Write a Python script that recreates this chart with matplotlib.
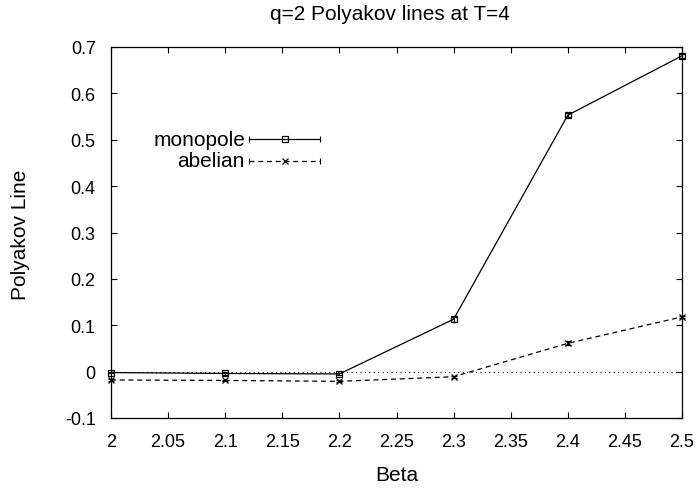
import numpy as np
import matplotlib as mpl
mpl.use('Agg')
import matplotlib.pyplot as plt

mpl.rcParams['font.family'] = ['Liberation Sans', 'DejaVu Sans']
mpl.rcParams['font.size'] = 13

# data -------------------------------------------------------------------------
beta = [2.0, 2.1, 2.2, 2.3, 2.4, 2.5]
mono = [-0.002, -0.004, -0.005, 0.113, 0.553, 0.681]
mono_err = [0.002, 0.003, 0.003, 0.005, 0.005, 0.004]
abel = [-0.018, -0.019, -0.021, -0.011, 0.061, 0.118]
abel_err = [0.002, 0.002, 0.002, 0.002, 0.004, 0.003]
xticks = [2, 2.05, 2.1, 2.15, 2.2, 2.25, 2.3, 2.35, 2.4, 2.45, 2.5]
yticks = [-0.1, 0, 0.1, 0.2, 0.3, 0.4, 0.5, 0.6, 0.7]

W, H = 697, 489
fig = plt.figure(figsize=(W / 100, H / 100), dpi=100)
ax = fig.add_axes([111 / W, 1 - 419 / H, 571 / W, 371 / H])

ax.axhline(0, color='black', lw=0.8, ls=(0, (1, 3)))
ax.errorbar(beta, mono, yerr=mono_err, color='black', lw=0.9, marker='s',
            ms=4.5, mfc='none', mew=0.9, capsize=2, elinewidth=0.8,
            clip_on=False)
ax.errorbar(beta, abel, yerr=abel_err, color='black', lw=0.9, ls=(0, (4, 3)),
            marker='x', ms=4, mew=0.9, capsize=2, elinewidth=0.8,
            clip_on=False)

ax.set_xlim(2, 2.5)
ax.set_ylim(-0.1, 0.7)
ax.set_xticks(xticks)
ax.set_xticklabels(['%g' % v for v in xticks])
ax.set_yticks(yticks)
ax.set_yticklabels(['%g' % v for v in yticks])
ax.tick_params(direction='in', top=True, right=True, length=4.3, width=0.8)
ax.tick_params(axis='x', pad=11)
ax.tick_params(axis='y', pad=11)
for s in ax.spines.values():
    s.set_linewidth(0.9)

fig.text(0.5 * (111 + 682) / W, 1 - 476 / H, 'Beta', ha='center', va='center',
         fontsize=15)
fig.text(21 / W, 1 - 235 / H, 'Polyakov Line', ha='center', va='center',
         rotation=90, fontsize=15)
fig.text(390 / W, 1 - 15 / H, 'q=2 Polyakov lines at T=4',
         ha='center', va='center', fontsize=15)

# key --------------------------------------------------------------------------
def key(y, label, ls, marker):
    x0, x1 = 249 / W, 320 / W
    fig.text(245 / W, y, label, ha='right', va='center', fontsize=15)
    fig.add_artist(plt.Line2D([x0, x1], [y, y], color='black', lw=0.9, ls=ls))
    fig.add_artist(plt.Line2D([x0, x1], [y, y], color='black', lw=0, marker='|',
                              ms=5, mew=0.8))
    fig.add_artist(plt.Line2D([(x0 + x1) / 2], [y], color='black', lw=0,
                              marker=marker, ms=4, mfc='none', mew=0.9))

key(1 - 140 / H, 'monopole', '-', 's')
key(1 - 162 / H, 'abelian', (0, (4, 3)), 'x')

fig.savefig('out.png', dpi=100)
